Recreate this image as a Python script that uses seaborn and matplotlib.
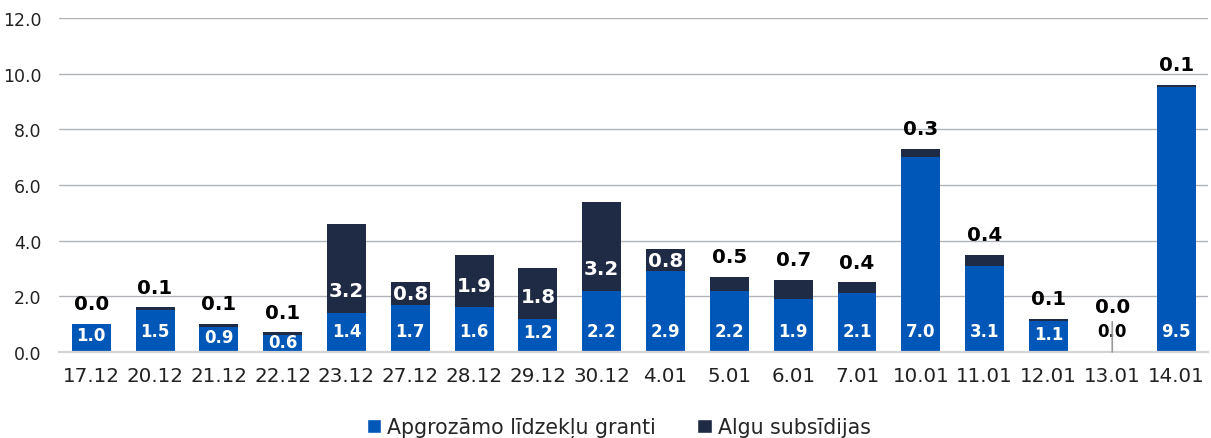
import numpy as np
import pandas as pd
import seaborn as sns
import matplotlib.pyplot as plt
from matplotlib.patches import Patch
from matplotlib.ticker import FixedLocator, FormatStrFormatter

# --- дані ---
dates = ["17.12", "20.12", "21.12", "22.12", "23.12", "27.12", "28.12", "29.12", "30.12",
         "4.01", "5.01", "6.01", "7.01", "10.01", "11.01", "12.01", "13.01", "14.01"]
grants = [1.0, 1.5, 0.9, 0.6, 1.4, 1.7, 1.6, 1.2, 2.2, 2.9, 2.2, 1.9, 2.1, 7.0, 3.1, 1.1, 0.0, 9.5]
subsidies = [0.0, 0.1, 0.1, 0.1, 3.2, 0.8, 1.9, 1.8, 3.2, 0.8, 0.5, 0.7, 0.4, 0.3, 0.4, 0.1, 0.0, 0.1]

BLUE = "#0057b8"
NAVY = "#1f2a44"

df = pd.DataFrame({"date": dates, "grants": grants, "subsidies": subsidies})
df["total"] = df["grants"] + df["subsidies"]

sns.set_style("white")
plt.rcParams["font.family"] = ["DejaVu Sans"]

fig = plt.figure(figsize=(12.11, 4.39), dpi=100)
ax = fig.add_axes([0.049, 0.196, 0.9485, 0.761])

# stacked bars: total (dark) first, then blue on top of it
sns.barplot(data=df, x="date", y="total", order=dates, color=NAVY, saturation=1,
            width=0.61, linewidth=0, ax=ax, zorder=3)
sns.barplot(data=df, x="date", y="grants", order=dates, color=BLUE, saturation=1,
            width=0.61, linewidth=0, ax=ax, zorder=4)

ax.set_ylim(0, 12)
ax.set_xlim(-0.5, len(dates) - 0.5)
ax.set_yticks(np.arange(0, 12.1, 2))
ax.yaxis.set_major_formatter(FormatStrFormatter("%.1f"))
ax.grid(axis="y", color="#b0b4b9", linewidth=1.0, zorder=0)
ax.grid(axis="x", visible=False)
ax.set_axisbelow(True)

for side in ["left", "right", "top"]:
    ax.spines[side].set_visible(False)
ax.spines["bottom"].set_color("#d4d4d4")
ax.spines["bottom"].set_linewidth(1.6)
ax.spines["bottom"].set_zorder(5)

ax.tick_params(axis="y", length=0, pad=13, labelsize=12.5, labelcolor="#222222")
ax.tick_params(axis="x", which="major", length=0, pad=10, labelsize=14.3, labelcolor="#222222")
ax.xaxis.set_minor_locator(FixedLocator(np.arange(-0.5, len(dates), 1)))
ax.tick_params(axis="x", which="minor", length=5, width=1.6, color="#d4d4d4")
ax.set_xlabel("")
ax.set_ylabel("")

# подписи значений
for i, row in df.iterrows():
    g, s, t = row["grants"], row["subsidies"], row["total"]
    # blue segment label
    yg = min(0.75, g * 0.6) if g > 0 else 0.75
    ax.text(i, yg, f"{g:.1f}", ha="center", va="center", fontsize=12, fontweight="bold",
            color="white" if g > 0 else "black", zorder=6)
    # dark segment label
    if s >= 0.8:
        ax.text(i, g + min(0.8, s / 2), f"{s:.1f}", ha="center", va="center", fontsize=14.3,
                fontweight="bold", color="white", zorder=6)
    elif t == 0:
        ax.annotate(f"{s:.1f}", xy=(i, t), xytext=(0, 33), textcoords="offset points",
                    ha="center", va="center", fontsize=14.3, fontweight="bold", color="black",
                    zorder=6,
                    arrowprops=dict(arrowstyle="-", color="#9a9a9a", lw=1.2,
                                    shrinkA=2, shrinkB=0))
    else:
        ax.annotate(f"{s:.1f}", xy=(i, t), xytext=(0, 14.5), textcoords="offset points",
                    ha="center", va="center", fontsize=14.3, fontweight="bold",
                    color="black", zorder=6)

handles = [Patch(facecolor=BLUE, label="Apgrozāmo līdzekļu granti"),
           Patch(facecolor=NAVY, label="Algu subsīdijas")]
fig.legend(handles=handles, loc="center", bbox_to_anchor=(0.511, 0.024), ncol=2, frameon=False,
           fontsize=14.8, handlelength=0.7, handleheight=0.7, handletextpad=0.3,
           columnspacing=2.0)

fig.savefig("out.png", dpi=100)
